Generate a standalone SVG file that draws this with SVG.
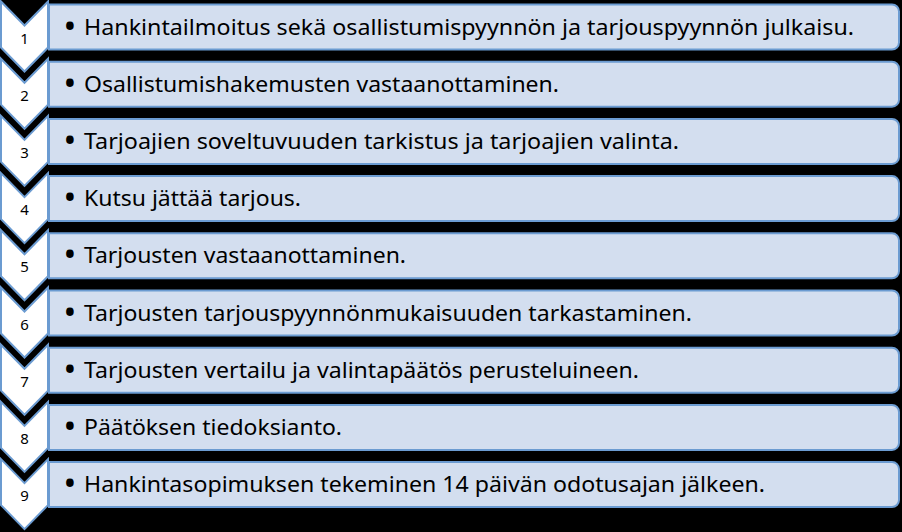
<svg xmlns="http://www.w3.org/2000/svg" width="902" height="532" viewBox="0 0 902 532">
<style>
.chev{fill:#FFFFFF;stroke:#6B9BD1;stroke-width:2;stroke-linejoin:miter}
.box{fill:#D3DEEF;stroke:#6B9BD1;stroke-width:2}
.num{font-family:"Noto Sans","Liberation Sans",sans-serif;font-size:15px;fill:#000;text-anchor:middle}
.txt{font-family:"Noto Sans","Liberation Sans",sans-serif;font-size:22px;fill:#000}
.bul{font-family:"Noto Sans","Liberation Sans",sans-serif;font-size:34px;fill:#000;text-anchor:middle}
</style>
<defs>
<path id="chevShape" d="M1,0 L24.5,24 L48,0 L48,46 L24.5,70 L1,46 Z"/>
<path id="boxShape" d="M49,0 H892 A7,7 0 0 1 899,7 V38 A7,7 0 0 1 892,45 H49 Z"/>
</defs>
<rect x="0" y="0" width="902" height="532" fill="#000"/>
<g id="step1" transform="translate(0,4.5)">
<use href="#chevShape" class="chev" transform="translate(0,-3)"/>
<use href="#boxShape" class="box"/>
<text class="num" x="24.5" y="39">1</text>
<text class="bul" x="70" y="33">•</text>
<text class="txt" x="84" y="30" textLength="770" lengthAdjust="spacingAndGlyphs">Hankintailmoitus sekä osallistumispyynnön ja tarjouspyynnön julkaisu.</text>
</g>
<g id="step2" transform="translate(0,61.7)">
<use href="#chevShape" class="chev" transform="translate(0,-3)"/>
<use href="#boxShape" class="box"/>
<text class="num" x="24.5" y="39">2</text>
<text class="bul" x="70" y="33">•</text>
<text class="txt" x="84" y="30" textLength="475" lengthAdjust="spacingAndGlyphs">Osallistumishakemusten vastaanottaminen.</text>
</g>
<g id="step3" transform="translate(0,118.9)">
<use href="#chevShape" class="chev" transform="translate(0,-3)"/>
<use href="#boxShape" class="box"/>
<text class="num" x="24.5" y="39">3</text>
<text class="bul" x="70" y="33">•</text>
<text class="txt" x="84" y="30" textLength="595" lengthAdjust="spacingAndGlyphs">Tarjoajien soveltuvuuden tarkistus ja tarjoajien valinta.</text>
</g>
<g id="step4" transform="translate(0,176.1)">
<use href="#chevShape" class="chev" transform="translate(0,-3)"/>
<use href="#boxShape" class="box"/>
<text class="num" x="24.5" y="39">4</text>
<text class="bul" x="70" y="33">•</text>
<text class="txt" x="84" y="30" textLength="217" lengthAdjust="spacingAndGlyphs">Kutsu jättää tarjous.</text>
</g>
<g id="step5" transform="translate(0,233.3)">
<use href="#chevShape" class="chev" transform="translate(0,-3)"/>
<use href="#boxShape" class="box"/>
<text class="num" x="24.5" y="39">5</text>
<text class="bul" x="70" y="33">•</text>
<text class="txt" x="84" y="30" textLength="322" lengthAdjust="spacingAndGlyphs">Tarjousten vastaanottaminen.</text>
</g>
<g id="step6" transform="translate(0,290.5)">
<use href="#chevShape" class="chev" transform="translate(0,-3)"/>
<use href="#boxShape" class="box"/>
<text class="num" x="24.5" y="39">6</text>
<text class="bul" x="70" y="33">•</text>
<text class="txt" x="84" y="30" textLength="608" lengthAdjust="spacingAndGlyphs">Tarjousten tarjouspyynnönmukaisuuden tarkastaminen.</text>
</g>
<g id="step7" transform="translate(0,347.7)">
<use href="#chevShape" class="chev" transform="translate(0,-3)"/>
<use href="#boxShape" class="box"/>
<text class="num" x="24.5" y="39">7</text>
<text class="bul" x="70" y="33">•</text>
<text class="txt" x="84" y="30" textLength="555" lengthAdjust="spacingAndGlyphs">Tarjousten vertailu ja valintapäätös perusteluineen.</text>
</g>
<g id="step8" transform="translate(0,404.9)">
<use href="#chevShape" class="chev" transform="translate(0,-3)"/>
<use href="#boxShape" class="box"/>
<text class="num" x="24.5" y="39">8</text>
<text class="bul" x="70" y="33">•</text>
<text class="txt" x="84" y="30" textLength="258" lengthAdjust="spacingAndGlyphs">Päätöksen tiedoksianto.</text>
</g>
<g id="step9" transform="translate(0,462.1)">
<use href="#chevShape" class="chev" transform="translate(0,-3)"/>
<use href="#boxShape" class="box"/>
<text class="num" x="24.5" y="39">9</text>
<text class="bul" x="70" y="33">•</text>
<text class="txt" x="84" y="30" textLength="681" lengthAdjust="spacingAndGlyphs">Hankintasopimuksen tekeminen 14 päivän odotusajan jälkeen.</text>
</g>
</svg>
